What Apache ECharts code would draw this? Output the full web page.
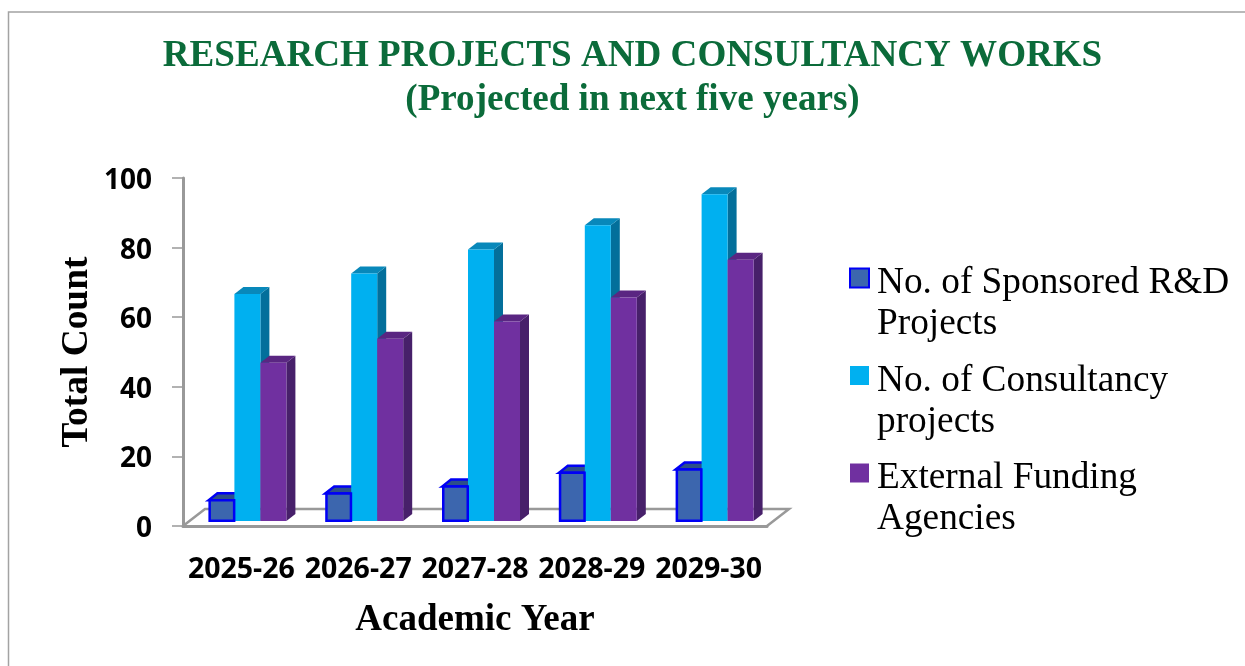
<!DOCTYPE html>
<html><head><meta charset="utf-8">
<style>html,body{margin:0;padding:0;background:#fff}#c{width:1245px;height:666px}</style>
<script src="https://cdn.jsdelivr.net/npm/echarts@6/dist/echarts.min.js"></script>
</head><body><div id="c"></div>
<script>
const categories = ['2025-26','2026-27','2027-28','2028-29','2029-30'];
const sponsored = [6,8,10,14,15];
const consultancy = [66,72,79,86,95];
const funding = [46,53,58,65,76];
const yTicks = {min:0,max:100,interval:20};
const titleText = 'RESEARCH PROJECTS AND CONSULTANCY WORKS\n(Projected in next five years)';
const legendLines = {
  'No. of Sponsored R&D Projects':['No. of Sponsored R&D','Projects'],
  'No. of Consultancy projects':['No. of Consultancy','projects'],
  'External Funding Agencies':['External Funding','Agencies']
};
const BAR_W=26, DX=9, DY=7, LIFT=5, SHIFT=6, FORESHORTEN=0.988, FLOOR_DX=22, FLOOR_DY=17;
const AXIS='#999999';
const serif='"Liberation Serif","Times New Roman",serif';
const sans='"Open Sans",sans-serif';

function bar3d(slot, front, top, side, stroke){
  return function(params, api){
    const i=api.value(0);
    const p=api.coord([i,api.value(1)]);
    const b=api.coord([i,0]);
    const h=(b[1]-p[1])*FORESHORTEN;
    const x=p[0]+SHIFT+(slot-1.5)*BAR_W, y=b[1]-LIFT-h, w=BAR_W;
    const line=stroke?{stroke:stroke,lineWidth:2.5}:{};
    return {type:'group',children:[
      {type:'polygon',shape:{points:[[x+w,y],[x+w+DX,y-DY],[x+w+DX,y+h-DY],[x+w,y+h]]},style:{fill:side}},
      {type:'polygon',shape:{points:[[x,y],[x+DX,y-DY],[x+w+DX,y-DY],[x+w,y]]},style:Object.assign({fill:top},line)},
      {type:'rect',z2:stroke?10:0,shape:stroke?{x:x+1.25,y:y,width:w-1.5,height:h-0.25}:{x:x,y:y,width:w,height:h},style:Object.assign({fill:front},line)}
    ]};
  };
}
function floor(params, api){
  const c=params.coordSys, x0=c.x, x1=c.x+c.width, y=c.y+c.height;
  return {type:'polyline',silent:true,
    shape:{points:[[x0,y],[x0+FLOOR_DX,y-FLOOR_DY],[x1+FLOOR_DX,y-FLOOR_DY],[x1,y]]},
    style:{fill:null,stroke:AXIS,lineWidth:2.5}};
}
const pairs=a=>a.map((v,i)=>[i,v]);
const chart=echarts.init(document.getElementById('c'),null,{renderer:'canvas'});
chart.setOption({
  backgroundColor:'#fff',animation:false,
  title:{text:titleText,left:632.5,top:34.5,padding:0,textAlign:'center',
    textStyle:{fontFamily:serif,fontWeight:'bold',fontSize:37.1,lineHeight:44,color:'#0B6B3A'}},
  graphic:[{type:'polyline',silent:true,shape:{points:[[8.5,666],[8.5,12],[1245,12]]},style:{fill:null,stroke:'#a3a3a3',lineWidth:1.5}}],
  grid:{left:183,top:178,width:584,height:348,containLabel:false},
  xAxis:{type:'category',data:categories,name:'Academic Year',nameLocation:'middle',nameGap:76,
    nameTextStyle:{fontFamily:serif,fontWeight:'bold',fontSize:37,color:'#000'},
    axisLine:{lineStyle:{color:AXIS,width:3}},axisTick:{show:false},
    axisLabel:{margin:29,interval:0,fontFamily:sans,fontWeight:'bold',fontSize:28.5,color:'#000'}},
  yAxis:{type:'value',min:yTicks.min,max:yTicks.max,interval:yTicks.interval,name:'Total Count',nameLocation:'middle',nameGap:87,
    nameTextStyle:{fontFamily:serif,fontWeight:'bold',fontSize:37.4,color:'#000'},
    axisLine:{show:true,lineStyle:{color:AXIS,width:3}},axisTick:{show:true,length:11,lineStyle:{color:AXIS,width:1.5}},
    splitLine:{show:false},
    axisLabel:{margin:31,verticalAlign:'top',lineHeight:28,padding:[-11,0,0,0],fontFamily:sans,fontWeight:'bold',fontSize:28,color:'#000'}},
  legend:{orient:'vertical',left:844,top:227,itemWidth:19,itemHeight:19,itemGap:-13.5,
    icon:'rect',selectedMode:false,align:'left',
    data:Object.keys(legendLines),
    formatter:n=>'{gap| }\n{t|'+legendLines[n][0]+'}\n{t|'+legendLines[n][1]+'}',
    textStyle:{padding:[0,0,0,3],
      rich:{gap:{fontSize:10,lineHeight:52},t:{fontFamily:serif,fontSize:37.3,lineHeight:41,color:'#000'}}}},
  series:[
    {type:'custom',name:'floor',renderItem:floor,data:[[0,0]],silent:true,encode:{x:0,y:1},tooltip:{show:false}},
    {type:'custom',name:'No. of Sponsored R&D Projects',renderItem:bar3d(0,'#3C66AE','#2D4F88','#2D4F88','#0000F5'),data:pairs(sponsored),encode:{x:0,y:1},
      itemStyle:{color:'#3C66AE',borderColor:'#0000F5',borderWidth:2}},
    {type:'custom',name:'No. of Consultancy projects',renderItem:bar3d(1,'#00B0F0','#0888BA','#036F9B'),data:pairs(consultancy),encode:{x:0,y:1},
      itemStyle:{color:'#00B0F0'}},
    {type:'custom',name:'External Funding Agencies',renderItem:bar3d(2,'#7030A0','#5A2682','#47206A'),data:pairs(funding),encode:{x:0,y:1},
      itemStyle:{color:'#7030A0'}}
  ]
});
</script></body></html>
